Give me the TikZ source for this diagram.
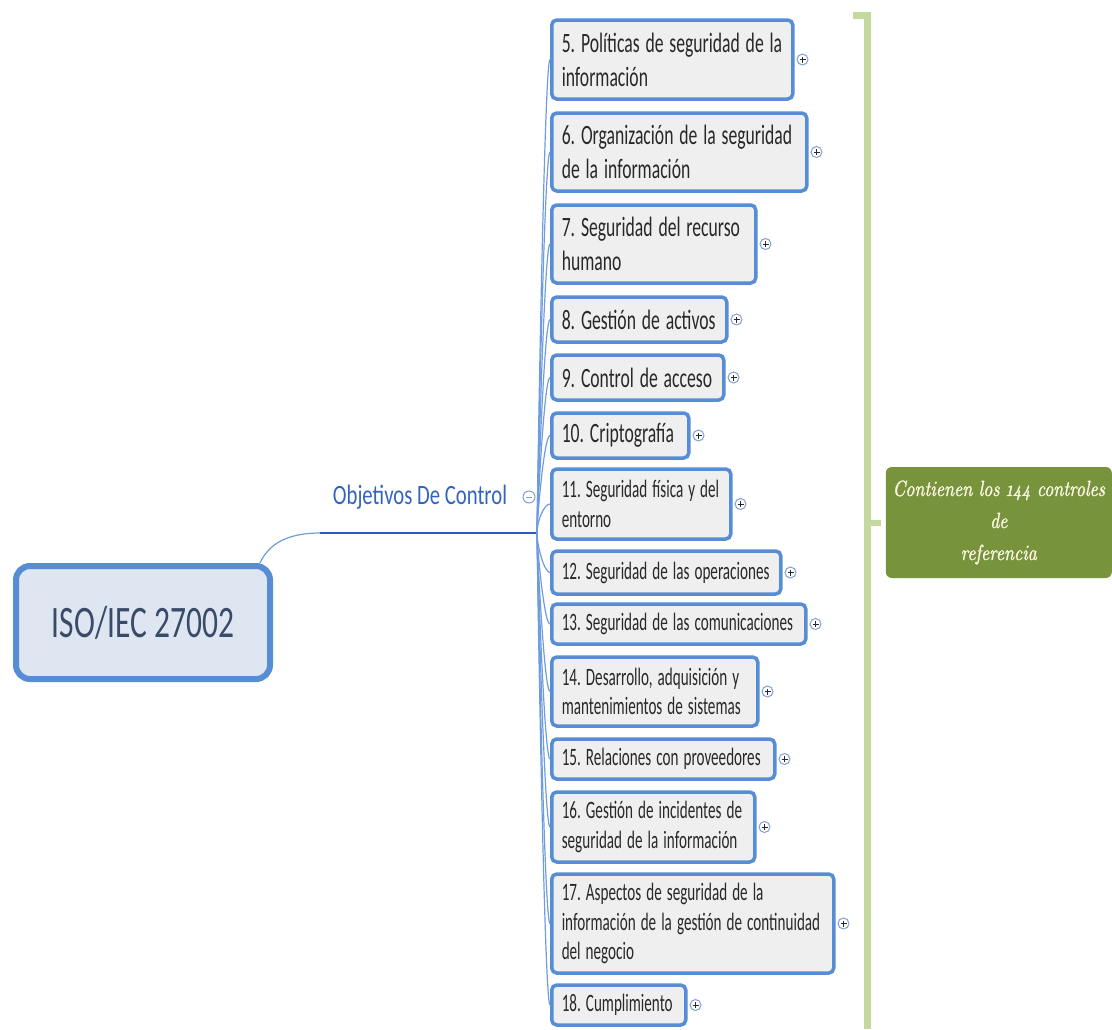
\documentclass[tikz,border=0pt]{standalone}
\usepackage{fontspec}
\usepackage{graphicx}
\setmainfont{Carlito}
\newfontfamily\notefont[FakeStretch=0.81,FakeBold=1.2,Numbers=OldStyle]{lmroman10-italic.otf}
% condensed text: each line is set in Carlito and squeezed horizontally by \tsx
\newcommand\tsx{1}
\newcommand\tline[1]{\scalebox{\tsx}[1]{#1}}
\newcommand\bigtext{\fontsize{28}{34}\selectfont\frenchspacing\renewcommand\tsx{0.63}}
\newcommand\smalltext{\fontsize{25}{29.5}\selectfont\frenchspacing\renewcommand\tsx{0.605}}
\newcommand\roottext{\fontsize{45}{54}\selectfont\renewcommand\tsx{0.70}}
\newcommand\branchtextfont{\fontsize{28}{34}\selectfont\renewcommand\tsx{0.74}}
\newcommand\notetext{\notefont\fontsize{22}{32}\selectfont}

\definecolor{edge}{RGB}{86,141,213}
\definecolor{wire}{RGB}{110,156,222}
\definecolor{trunk}{RGB}{40,92,190}
\definecolor{boxfill}{RGB}{239,239,239}
\definecolor{rootfill}{RGB}{221,230,241}
\definecolor{ink}{RGB}{40,40,40}
\definecolor{rootink}{RGB}{58,74,104}
\definecolor{branchink}{RGB}{50,100,190}
\definecolor{summary}{RGB}{196,217,159}
\definecolor{notefill}{RGB}{119,147,60}
\definecolor{noteink}{RGB}{253,248,232}
\definecolor{knob}{RGB}{130,160,210}

\begin{document}
\begin{tikzpicture}[x=1pt,y=-1pt,
  topic/.style={draw=edge, line width=3.5, fill=boxfill, rounded corners=5,
    inner xsep=10pt, inner ysep=0pt, anchor=west, align=left, text=ink},
  bigtopic/.style={topic, font=\bigtext},
  smalltopic/.style={topic, font=\smalltext},
  roottopic/.style={draw=edge, line width=6, fill=rootfill, rounded corners=14,
    minimum width=254pt, minimum height=113pt, text=rootink, font=\roottext},
  branchtext/.style={text=branchink, inner sep=0pt, font=\branchtextfont},
  conn/.style={draw=wire, line width=1.2},
  feed/.style={out distance=12pt, in distance=6pt},
  expander/.style={circle, draw=knob, line width=1, fill=white,
    minimum size=11pt, inner sep=0pt,
    path picture={\draw[ink, line width=0.9]
      ([xshift=-3pt]path picture bounding box.center) -- ([xshift=3pt]path picture bounding box.center)
      ([yshift=-3pt]path picture bounding box.center) -- ([yshift=3pt]path picture bounding box.center);}},
  collapser/.style={circle, draw=knob, line width=1, fill=white,
    minimum size=12pt, inner sep=0pt,
    path picture={\draw[knob, line width=1]
      ([xshift=-3pt]path picture bounding box.center) -- ([xshift=3pt]path picture bounding box.center);}},
  bracket/.style={draw=summary, line width=6.5},
  note/.style={fill=notefill, rounded corners=6, minimum width=226pt,
    minimum height=111pt, align=center, text=noteink, inner sep=0pt,
    font=\notetext}
]
\useasboundingbox (0,0) rectangle (1112,1029);

% central topic and its branch
\node[roottopic] (root) at (143,622.5) {\tline{ISO/IEC 27002}};
\node[branchtext] (obj) at (420,497) {\tline{Objetivos De Control}};
\node[collapser] (xobj) at (529,497) {};
\coordinate (rootout) at ([xshift=-13pt]root.north east);
\coordinate (objL) at (320,533);
\coordinate (hub) at (537,533);
\draw[conn] (rootout) .. controls +(10,-22) and +(-28,0) .. (objL);
\draw[trunk, line width=1.6] (objL) -- (hub);

% control domains
\node[bigtopic, text width=221pt, minimum height=79pt] (b5) at (550,59.5)
  {\tline{5. Políticas de seguridad de la}\\\tline{información}};
\node[bigtopic, text width=235pt, minimum height=78pt] (b6) at (550,152)
  {\tline{6. Organización de la seguridad}\\\tline{de la información}};
\node[bigtopic, text width=184pt, minimum height=78pt] (b7) at (550,244)
  {\tline{7. Seguridad del recurso}\\\tline{humano}};
\node[bigtopic, text width=155pt, minimum height=45pt] (b8) at (550,319.5)
  {\tline{8. Gestión de activos}};
\node[bigtopic, text width=152pt, minimum height=45pt] (b9) at (550,377.5)
  {\tline{9. Control de acceso}};
\node[bigtopic, text width=117pt, minimum height=45pt] (b10) at (550,435.5)
  {\tline{10. Criptografía}};
\node[smalltopic, text width=159pt, minimum height=70pt] (b11) at (550,504)
  {\tline{11. Seguridad física y del}\\\tline{entorno}};
\node[smalltopic, text width=209pt, minimum height=43pt] (b12) at (550,572.5)
  {\tline{12. Seguridad de las operaciones}};
\node[smalltopic, text width=234pt, minimum height=40pt] (b13) at (550,624)
  {\tline{13. Seguridad de las comunicaciones}};
\node[smalltopic, text width=186pt, minimum height=69pt] (b14) at (550,691.5)
  {\tline{14. Desarrollo, adquisición y}\\\tline{mantenimientos de sistemas}};
\node[smalltopic, text width=203pt, minimum height=40pt] (b15) at (550,759)
  {\tline{15. Relaciones con proveedores}};
\node[smalltopic, text width=183pt, minimum height=70pt] (b16) at (550,827)
  {\tline{16. Gestión de incidentes de}\\\tline{seguridad de la información}};
\node[smalltopic, text width=262pt, minimum height=99pt] (b17) at (550,923.5)
  {\tline{17. Aspectos de seguridad de la}\\\tline{información de la gestión de continuidad}\\\tline{del negocio}};
\node[smalltopic, text width=114pt, minimum height=40pt] (b18) at (550,1005)
  {\tline{18. Cumplimiento}};

% connectors from the branch hub to every domain
\foreach \b in {b5,b6,b7,b8,b9,b10,b11}
  \draw[conn] (hub) to[out=90,in=180,feed] (\b.west);
\foreach \b in {b12,b13,b14,b15,b16,b17,b18}
  \draw[conn] (hub) to[out=-90,in=180,feed] (\b.west);

% expand knobs
\foreach \b in {b5,b6,b7,b8,b9,b10,b11,b12,b13,b14,b15,b16,b17,b18}
  \node[expander] (x\b) at ([xshift=8pt]\b.east) {};

% summary bracket and note
\node[note, anchor=east] (note) at (1112,522.5)
  {Contienen los 144 controles\\de\\referencia};
\coordinate (brtop) at (853,15.5);
\coordinate (brcorner) at (867.5,15.5);
\coordinate (brbottom) at (867.5,1029);
\coordinate (brmid) at (867.5,523);
\coordinate (brtip) at (881,523);
\draw[bracket] (brtop) -- (brcorner) -- (brbottom);
\draw[bracket] (brmid) -- (brtip);
\end{tikzpicture}
\end{document}
